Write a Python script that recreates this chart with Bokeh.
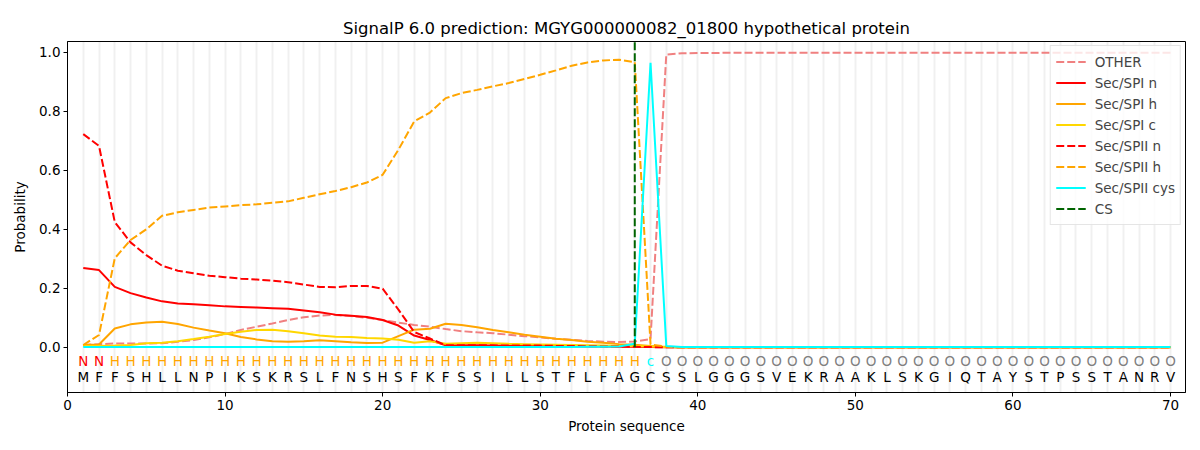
from bokeh.plotting import figure
from bokeh.models import Range1d, FixedTicker, ColumnDataSource, Legend
from bokeh.core.properties import value
from bokeh.embed import file_html
from bokeh.resources import INLINE

# ---------------- data ----------------
sequence = list("MFFSHLLNPIKSKRSLFNSHSFKFSSILLSTFLFAGCSSLGGGSVEKRAAKLSKGIQTAYSTPSSTANRV")
labels = list("NN" + "H" * 34 + "c" + "O" * 33)
positions = list(range(1, 71))
cs_pos = 36

other = [0.008, 0.011, 0.013, 0.013, 0.013, 0.014, 0.019, 0.025, 0.034, 0.045,
         0.059, 0.070, 0.081, 0.093, 0.102, 0.108, 0.110, 0.106, 0.100, 0.093,
         0.084, 0.076, 0.070, 0.062, 0.055, 0.051, 0.048, 0.043, 0.038, 0.034,
         0.029, 0.026, 0.022, 0.019, 0.018, 0.020, 0.028, 0.993, 0.997, 0.998,
         0.998, 0.999, 0.999, 0.999, 0.999, 0.999, 0.999, 0.999, 0.999, 0.999,
         0.999, 0.999, 0.999, 0.999, 0.999, 0.999, 0.999, 0.999, 0.999, 0.999,
         0.999, 0.999, 0.999, 0.999, 0.999, 0.999, 0.999, 0.999, 0.999, 0.999]

spi_n = [0.269, 0.262, 0.205, 0.184, 0.169, 0.156, 0.149, 0.146, 0.143, 0.139,
         0.137, 0.135, 0.133, 0.131, 0.125, 0.119, 0.111, 0.107, 0.103, 0.093,
         0.074, 0.040, 0.025, 0.007, 0.007, 0.007, 0.006, 0.006, 0.005, 0.005,
         0.004, 0.004, 0.003, 0.003, 0.002, 0.002, 0.001, 0.000, 0.000, 0.000,
         0.000, 0.000, 0.000, 0.000, 0.000, 0.000, 0.000, 0.000, 0.000, 0.000,
         0.000, 0.000, 0.000, 0.000, 0.000, 0.000, 0.000, 0.000, 0.000, 0.000,
         0.000, 0.000, 0.000, 0.000, 0.000, 0.000, 0.000, 0.000, 0.000, 0.000]

spi_h = [0.008, 0.010, 0.064, 0.078, 0.084, 0.087, 0.079, 0.067, 0.057, 0.048,
         0.035, 0.027, 0.021, 0.019, 0.021, 0.024, 0.021, 0.017, 0.015, 0.016,
         0.038, 0.060, 0.063, 0.080, 0.076, 0.068, 0.059, 0.051, 0.043, 0.036,
         0.029, 0.025, 0.019, 0.016, 0.011, 0.009, 0.005, 0.001, 0.000, 0.000,
         0.000, 0.000, 0.000, 0.000, 0.000, 0.000, 0.000, 0.000, 0.000, 0.000,
         0.000, 0.000, 0.000, 0.000, 0.000, 0.000, 0.000, 0.000, 0.000, 0.000,
         0.000, 0.000, 0.000, 0.000, 0.000, 0.000, 0.000, 0.000, 0.000, 0.000]

spi_c = [0.005, 0.005, 0.006, 0.008, 0.014, 0.016, 0.021, 0.028, 0.036, 0.045,
         0.053, 0.059, 0.060, 0.055, 0.048, 0.040, 0.036, 0.035, 0.032, 0.030,
         0.026, 0.016, 0.021, 0.012, 0.014, 0.016, 0.014, 0.012, 0.011, 0.010,
         0.009, 0.008, 0.007, 0.006, 0.005, 0.005, 0.003, 0.001, 0.000, 0.000,
         0.000, 0.000, 0.000, 0.000, 0.000, 0.000, 0.000, 0.000, 0.000, 0.000,
         0.000, 0.000, 0.000, 0.000, 0.000, 0.000, 0.000, 0.000, 0.000, 0.000,
         0.000, 0.000, 0.000, 0.000, 0.000, 0.000, 0.000, 0.000, 0.000, 0.000]

spii_n = [0.723, 0.683, 0.425, 0.356, 0.313, 0.277, 0.260, 0.251, 0.243, 0.238,
          0.233, 0.230, 0.226, 0.221, 0.213, 0.205, 0.204, 0.208, 0.208, 0.199,
          0.128, 0.052, 0.030, 0.007, 0.007, 0.007, 0.007, 0.006, 0.006, 0.006,
          0.005, 0.005, 0.004, 0.003, 0.003, 0.002, 0.001, 0.000, 0.000, 0.000,
          0.000, 0.000, 0.000, 0.000, 0.000, 0.000, 0.000, 0.000, 0.000, 0.000,
          0.000, 0.000, 0.000, 0.000, 0.000, 0.000, 0.000, 0.000, 0.000, 0.000,
          0.000, 0.000, 0.000, 0.000, 0.000, 0.000, 0.000, 0.000, 0.000, 0.000]

spii_h = [0.008, 0.042, 0.302, 0.364, 0.400, 0.446, 0.458, 0.466, 0.474, 0.478,
          0.482, 0.485, 0.490, 0.495, 0.507, 0.519, 0.530, 0.543, 0.559, 0.585,
          0.670, 0.766, 0.796, 0.845, 0.862, 0.873, 0.885, 0.896, 0.910, 0.924,
          0.939, 0.955, 0.966, 0.973, 0.975, 0.967, 0.010, 0.002, 0.000, 0.000,
          0.000, 0.000, 0.000, 0.000, 0.000, 0.000, 0.000, 0.000, 0.000, 0.000,
          0.000, 0.000, 0.000, 0.000, 0.000, 0.000, 0.000, 0.000, 0.000, 0.000,
          0.000, 0.000, 0.000, 0.000, 0.000, 0.000, 0.000, 0.000, 0.000, 0.000]

spii_cys = [0.001, 0.001, 0.001, 0.001, 0.001, 0.001, 0.001, 0.001, 0.001, 0.001,
            0.001, 0.001, 0.001, 0.001, 0.001, 0.001, 0.001, 0.001, 0.001, 0.001,
            0.001, 0.001, 0.001, 0.001, 0.001, 0.001, 0.001, 0.001, 0.001, 0.001,
            0.001, 0.001, 0.002, 0.002, 0.003, 0.012, 0.965, 0.005, 0.001, 0.001,
            0.001, 0.001, 0.001, 0.001, 0.001, 0.001, 0.001, 0.001, 0.001, 0.001,
            0.001, 0.001, 0.001, 0.001, 0.001, 0.001, 0.001, 0.001, 0.001, 0.001,
            0.001, 0.001, 0.001, 0.001, 0.001, 0.001, 0.001, 0.001, 0.001, 0.001]

x_ticks = [0, 10, 20, 30, 40, 50, 60, 70]
y_ticks = [0.0, 0.2, 0.4, 0.6, 0.8, 1.0]
label_colors = {"N": "#ff0000", "H": "#ffa500", "c": "#00ffff", "O": "#808080"}

# ---------------- layout / style ----------------
X_MIN, X_MAX = 0, 70.95
Y_MIN, Y_MAX = -0.153, 1.037
LABEL_ROW_Y = -0.047
SEQ_ROW_Y = -0.101
FONT = "DejaVu Sans"

p = figure(width=1190, height=440, output_backend="svg", toolbar_location=None,
           x_range=Range1d(X_MIN, X_MAX), y_range=Range1d(Y_MIN, Y_MAX),
           min_border_left=67, min_border_right=5, min_border_top=41, min_border_bottom=48,
           title="SignalP 6.0 prediction: MGYG000000082_01800 hypothetical protein")

p.title.align = "center"
p.title.text_font = FONT
p.title.text_font_size = "16.5px"
p.title.text_font_style = "normal"
p.title.text_color = "black"
p.title.offset = 0
p.title.standoff = 8

p.outline_line_color = "black"
p.outline_line_width = 1
p.outline_line_alpha = 1
p.background_fill_color = "white"
p.border_fill_color = "white"

for ax in (p.xaxis, p.yaxis):
    ax.major_label_text_font = FONT
    ax.major_label_text_font_size = "13.5px"
    ax.major_label_text_color = "black"
    ax.axis_label_text_font = FONT
    ax.axis_label_text_font_size = "13.5px"
    ax.axis_label_text_font_style = "normal"
    ax.axis_label_text_color = "black"
    ax.major_tick_in = 0
    ax.major_tick_out = 4
    ax.minor_tick_line_color = None
    ax.axis_line_color = "black"
    ax.major_tick_line_color = "black"

p.xaxis.ticker = FixedTicker(ticks=x_ticks)
p.yaxis.ticker = FixedTicker(ticks=y_ticks)
p.yaxis.major_label_overrides = {t: f"{t:.1f}" for t in y_ticks}
p.xaxis.axis_label = "Protein sequence"
p.yaxis.axis_label = "Probability"
p.xaxis.axis_label_standoff = 5
p.yaxis.axis_label_standoff = 8
p.xaxis.major_label_standoff = 3
p.yaxis.major_label_standoff = 3

p.ygrid.grid_line_color = None
p.xgrid.ticker = FixedTicker(ticks=positions)
p.xgrid.grid_line_color = "#000000"
p.xgrid.grid_line_alpha = 0.06
p.xgrid.grid_line_width = 2

src = ColumnDataSource(dict(x=positions, other=other, spi_n=spi_n, spi_h=spi_h, spi_c=spi_c,
                            spii_n=spii_n, spii_h=spii_h, spii_cys=spii_cys))

LW = 2
DASH = "8 3"
r_other = p.line("x", "other", source=src, line_color="#f08080", line_width=LW, line_dash=DASH)
r_spi_n = p.line("x", "spi_n", source=src, line_color="#ff0000", line_width=LW)
r_spi_h = p.line("x", "spi_h", source=src, line_color="#ffa500", line_width=LW)
r_spi_c = p.line("x", "spi_c", source=src, line_color="#ffd700", line_width=LW)
r_spii_n = p.line("x", "spii_n", source=src, line_color="#ff0000", line_width=LW, line_dash=DASH)
r_spii_h = p.line("x", "spii_h", source=src, line_color="#ffa500", line_width=LW, line_dash=DASH)
r_cys = p.line("x", "spii_cys", source=src, line_color="#00ffff", line_width=LW)
r_cs = p.segment(x0=[cs_pos], y0=[0], x1=[cs_pos], y1=[Y_MAX], line_color="#006400",
                 line_width=LW, line_dash=DASH)

# residue labels and sequence
p.text(x=positions, y=[LABEL_ROW_Y] * len(positions), text=labels,
       text_color=[label_colors[l] for l in labels],
       text_font=value(FONT), text_font_size="13.5px",
       text_align="center", text_baseline="middle")
p.text(x=positions, y=[SEQ_ROW_Y] * len(positions), text=sequence,
       text_color="black", text_font=value(FONT), text_font_size="13.5px",
       text_align="center", text_baseline="middle")

legend = Legend(items=[("OTHER", [r_other]), ("Sec/SPI n", [r_spi_n]), ("Sec/SPI h", [r_spi_h]),
                       ("Sec/SPI c", [r_spi_c]), ("Sec/SPII n", [r_spii_n]),
                       ("Sec/SPII h", [r_spii_h]), ("Sec/SPII cys", [r_cys]), ("CS", [r_cs])],
                location="top_right")
legend.label_text_font = FONT
legend.label_text_font_size = "13.5px"
legend.label_height = 21
legend.glyph_height = 21
legend.glyph_width = 30
legend.spacing = 0
legend.padding = 5
legend.margin = 4
legend.label_standoff = 9
legend.border_line_color = "#cccccc"
legend.border_line_width = 1
legend.background_fill_alpha = 0.8
p.add_layout(legend)

open("out.html", "w").write(file_html(p, INLINE))
